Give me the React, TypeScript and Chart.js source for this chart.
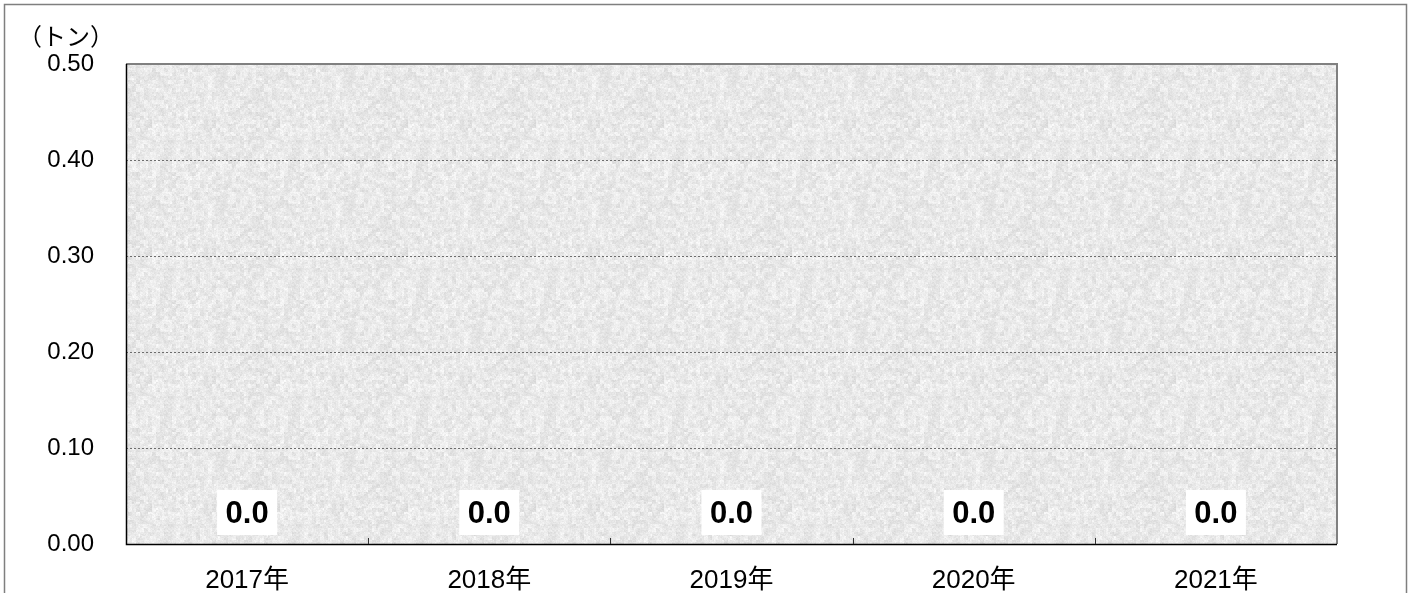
import React, { useEffect, useRef } from "react";
import { Chart, registerables } from "chart.js";

Chart.register(...registerables);

const categories = ["2017年", "2018年", "2019年", "2020年", "2021年"];
const values = [0, 0, 0, 0, 0];
const yTicks = [0, 0.1, 0.2, 0.3, 0.4, 0.5];
const unitLabel = "（トン）";

const FONT = "'Liberation Sans', 'Noto Sans CJK JP', sans-serif";
const CJK = "'Noto Sans CJK JP', sans-serif";

function makePattern(ctx: CanvasRenderingContext2D) {
  const size = 128;
  const c = document.createElement("canvas");
  c.width = size;
  c.height = size;
  const p = c.getContext("2d")!;
  const img = p.createImageData(size, size);
  for (let y = 0; y < size; y++) {
    for (let x = 0; x < size; x++) {
      const h = Math.sin(x * 12.9898 + y * 78.233) * 43758.5453;
      const f = h - Math.floor(h);
      const h2 = Math.sin((x >> 2) * 3.7 + (y >> 2) * 9.1) * 1375.3;
      const f2 = h2 - Math.floor(h2);
      const h3 = Math.sin((x >> 1) * 5.3 + (y >> 1) * 2.9) * 913.7;
      const f3 = h3 - Math.floor(h3);
      const v = Math.round(212 + f * 12 + f2 * 18 + f3 * 12);
      const i = (y * size + x) * 4;
      img.data[i] = v;
      img.data[i + 1] = v;
      img.data[i + 2] = v;
      img.data[i + 3] = 255;
    }
  }
  p.putImageData(img, 0, 0);
  return ctx.createPattern(c, "repeat");
}

const decorPlugin = {
  id: "decor",
  beforeDraw(chart: any) {
    const { ctx, chartArea } = chart;
    const { left, top, right, bottom } = chartArea;
    ctx.save();
    ctx.fillStyle = "#ffffff";
    ctx.fillRect(0, 0, chart.width, chart.height);
    const pat = makePattern(ctx);
    ctx.fillStyle = pat || "#e6e6e6";
    ctx.fillRect(left, top, right - left, bottom - top);
    ctx.restore();
  },
  beforeDatasetsDraw(chart: any) {
    const { ctx, chartArea, scales } = chart;
    const { left, top, right, bottom } = chartArea;
    const y = scales.y;
    const x = scales.x;
    ctx.save();
    ctx.strokeStyle = "#6e6e6e";
    ctx.lineWidth = 1;
    ctx.setLineDash([2, 2]);
    yTicks.forEach((v) => {
      if (v === 0 || v === 0.5) return;
      const py = Math.round(y.getPixelForValue(v)) + 0.5;
      ctx.beginPath();
      ctx.moveTo(left, py);
      ctx.lineTo(right, py);
      ctx.stroke();
    });
    ctx.setLineDash([]);
    ctx.strokeStyle = "#808080";
    ctx.lineWidth = 2;
    ctx.beginPath();
    ctx.moveTo(left, top);
    ctx.lineTo(right, top);
    ctx.lineTo(right, bottom);
    ctx.stroke();
    ctx.strokeStyle = "#000000";
    ctx.lineWidth = 1.5;
    ctx.beginPath();
    ctx.moveTo(left + 0.5, top);
    ctx.lineTo(left + 0.5, bottom + 0.5);
    ctx.lineTo(right, bottom + 0.5);
    ctx.stroke();
    ctx.lineWidth = 1;
    ctx.strokeStyle = "#333333";
    for (let i = 0; i < categories.length - 1; i++) {
      const px = Math.round((x.getPixelForValue(i) + x.getPixelForValue(i + 1)) / 2) + 0.5;
      ctx.beginPath();
      ctx.moveTo(px, bottom);
      ctx.lineTo(px, bottom - 6);
      ctx.stroke();
    }
    ctx.restore();
  },
  afterDraw(chart: any) {
    const { ctx } = chart;
    ctx.save();
    const meta = chart.getDatasetMeta(0);
    meta.data.forEach((bar: any, i: number) => {
      const text = values[i].toFixed(1);
      ctx.font = `bold 31px ${FONT}`;
      const w = 60;
      const h = 45;
      const bx = bar.x - w / 2;
      const by = bar.y - 9 - h;
      ctx.fillStyle = "#ffffff";
      ctx.fillRect(bx, by, w, h);
      ctx.fillStyle = "#000000";
      ctx.textAlign = "center";
      ctx.textBaseline = "middle";
      ctx.fillText(text, bar.x, by + h / 2 + 2);
    });
    ctx.font = `24px ${CJK}`;
    ctx.fillStyle = "#000000";
    ctx.textAlign = "left";
    ctx.textBaseline = "middle";
    ctx.fillText(unitLabel, 18, 36);
    ctx.strokeStyle = "#7f7f7f";
    ctx.lineWidth = 1.5;
    ctx.strokeRect(4.5, 4.5, 1402, 700);
    ctx.restore();
  },
};

export default function App() {
  const ref = useRef<HTMLCanvasElement>(null);
  useEffect(() => {
    if (!ref.current) return;
    const chart = new Chart(ref.current, {
      type: "bar",
      data: {
        labels: categories,
        datasets: [{ data: values, backgroundColor: "#4472c4" }],
      },
      plugins: [decorPlugin],
      options: {
        animation: false,
        responsive: true,
        maintainAspectRatio: false,
        layout: { padding: { left: 0, top: 64, right: 78, bottom: 0 } },
        plugins: { legend: { display: false }, tooltip: { enabled: false } },
        scales: {
          x: {
            grid: { display: false, drawTicks: false },
            border: { display: false },
            ticks: {
              color: "#000000",
              font: { family: FONT, size: 26 },
              padding: 21,
            },
            afterFit(scale: any) {
              scale.height = 49;
            },
          },
          y: {
            min: 0,
            max: 0.5,
            grid: { display: false, drawTicks: false },
            border: { display: false },
            afterBuildTicks(scale: any) {
              scale.ticks = yTicks.map((v) => ({ value: v }));
            },
            ticks: {
              color: "#000000",
              font: { family: FONT, size: 24 },
              padding: 32,
              callback: (v: any) => Number(v).toFixed(2),
            },
            afterFit(scale: any) {
              scale.width = 126;
            },
          },
        },
      },
    });
    return () => chart.destroy();
  }, []);
  return (
    <div style={{ position: "absolute", left: 0, top: 0, width: 1415, height: 593 }}>
      <canvas ref={ref} />
    </div>
  );
}
